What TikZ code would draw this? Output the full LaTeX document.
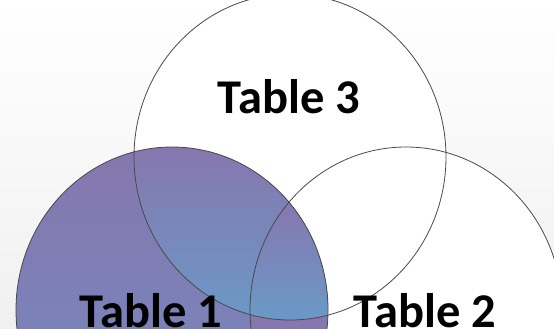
\documentclass[tikz,border=0pt]{standalone}
\usepackage{fontspec}
\setmainfont{Carlito}
\definecolor{vpurple}{HTML}{8677AE}
\definecolor{vblue}{HTML}{6A99C7}
\definecolor{vmid}{HTML}{7B82B8}
\definecolor{vline}{HTML}{4A4A4A}
\definecolor{bgbot}{HTML}{F0F0F0}
\tikzset{
  outline/.style={draw=vline, line width=0.8pt},
  label/.style={font=\fontsize{48.5}{58}\selectfont\bfseries, text=black, anchor=base, inner sep=0pt}
}
\begin{document}
\begin{tikzpicture}[x=1pt,y=-1pt]
\useasboundingbox (0,0) rectangle (554,329);
% background
\shade[top color=white, bottom color=bgbot] (0,0) rectangle (554,329);
% ellipse geometry
\def\rx{156}
\def\ry{163}
\coordinate (c3) at (290,157);
\coordinate (c1) at (172,310);
\coordinate (c2) at (406,310);
% white fills of circles 3 and 2
\fill[white] (c3) ellipse [x radius=\rx pt, y radius=\ry pt];
\fill[white] (c2) ellipse [x radius=\rx pt, y radius=\ry pt];
% circle 1 region
\begin{scope}
  \clip (c1) ellipse [x radius=\rx pt, y radius=\ry pt];
  \shade[top color=vpurple, bottom color=vmid] (0,147) rectangle (554,329);
\end{scope}
% circle 1 and 3
\begin{scope}
  \clip (c1) ellipse [x radius=\rx pt, y radius=\ry pt];
  \clip (c3) ellipse [x radius=\rx pt, y radius=\ry pt];
  \shade[top color=vpurple, bottom color=vblue] (0,150) rectangle (554,320);
\end{scope}
% circle 1 and 2
\begin{scope}
  \clip (c1) ellipse [x radius=\rx pt, y radius=\ry pt];
  \clip (c2) ellipse [x radius=\rx pt, y radius=\ry pt];
  \fill[vpurple] (0,150) rectangle (554,329);
\end{scope}
% all three
\begin{scope}
  \clip (c1) ellipse [x radius=\rx pt, y radius=\ry pt];
  \clip (c2) ellipse [x radius=\rx pt, y radius=\ry pt];
  \clip (c3) ellipse [x radius=\rx pt, y radius=\ry pt];
  \shade[top color=vpurple, bottom color=vblue] (0,203) rectangle (554,319);
\end{scope}
% outlines
\draw[outline] (c3) ellipse [x radius=\rx pt, y radius=\ry pt];
\draw[outline] (c2) ellipse [x radius=\rx pt, y radius=\ry pt];
\draw[outline] (c1) ellipse [x radius=\rx pt, y radius=\ry pt];
% labels
\node[label] (t3) at (289,113) {Table 3};
\node[label] (t1) at (151,327) {Table 1};
\node[label] (t2) at (425,327) {Table 2};
\end{tikzpicture}
\end{document}
